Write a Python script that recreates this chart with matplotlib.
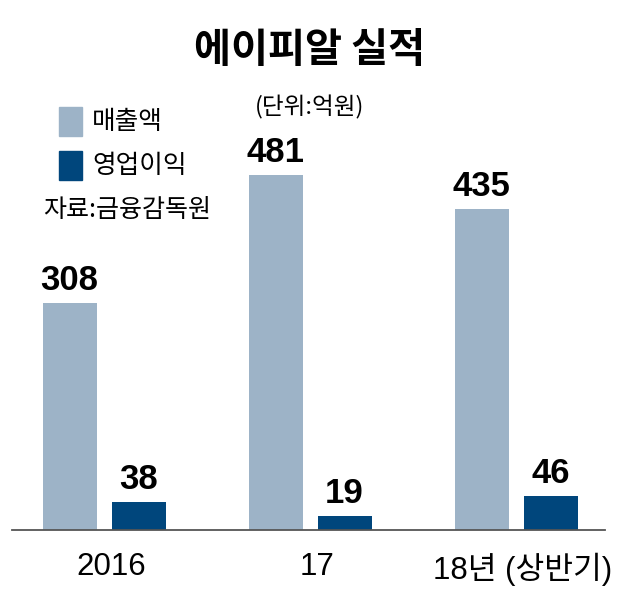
import numpy as np
import matplotlib.pyplot as plt

W, H = 617, 603

categories = ['2016', '17', '18년 (상반기)']
sales = [308, 481, 435]          # 매출액
op_profit = [38, 19, 46]         # 영업이익

light = '#9db3c7'
dark = '#00467c'
kr = ['Noto Sans CJK KR', 'DejaVu Sans']
num = ['Liberation Sans', 'Noto Sans CJK KR']


def px(x, y):
    # pixel position (from top left) -> figure fraction
    return x / W, 1 - y / H


fig = plt.figure(figsize=(W / 100, H / 100), dpi=100)

# axes: baseline at y=530, x from 12 to 605, top of 481 bar at y=175
x0, x1, yb, yt = 12, 605, 530, 175
ax = fig.add_axes([x0 / W, 1 - yb / H, (x1 - x0) / W, (yb - yt) / H])

x = np.arange(len(categories))
width = 0.262
off = 0.1675
ax.bar(x - off, sales, width, color=light)
ax.bar(x + off, op_profit, width, color=dark)

ax.set_xlim(-0.447, 2.432)
ax.set_ylim(0, max(sales))

for xi, v in zip(x, sales):
    ax.annotate(str(v), (xi - off, v), xytext=(0, 4), textcoords='offset points',
                ha='center', va='bottom', fontsize=25, fontweight='bold',
                family=num, annotation_clip=False)
for xi, v in zip(x, op_profit):
    ax.annotate(str(v), (xi + off, v), xytext=(0, 4), textcoords='offset points',
                ha='center', va='bottom', fontsize=25, fontweight='bold',
                family=num, annotation_clip=False)

for s in ['top', 'right', 'left']:
    ax.spines[s].set_visible(False)
ax.spines['bottom'].set_color('#555555')
ax.spines['bottom'].set_linewidth(1.3)
ax.set_yticks([])
ax.set_xticks([])

# category labels under each group (a little right of centre, as in the source)
for xi, lab in zip(x, categories):
    ax.annotate(lab, (xi, 0), xycoords=('data', 'axes fraction'),
                xytext=(5, -16), textcoords='offset points',
                ha='center', va='top', fontsize=22.5, family=num,
                annotation_clip=False)

# title and side notes
fig.text(*px(310, 51), '에이피알 실적', ha='center', va='center',
         fontsize=29, fontweight='bold', family=kr)
fig.text(*px(310, 107), '(단위:억원)', ha='center', va='center',
         fontsize=17, family=kr)

# legend drawn by hand
for ytop, c, lab in [(107, light, '매출액'), (151, dark, '영업이익')]:
    fx, fy = px(59, ytop + 29)
    fig.patches.append(plt.Rectangle((fx, fy), 23 / W, 29 / H, color=c,
                                     transform=fig.transFigure, figure=fig))
    fig.text(*px(92, ytop + 15), lab, ha='left', va='center', fontsize=18.5, family=kr)
fig.text(*px(43, 210), '자료:금융감독원', ha='left', va='center',
         fontsize=18, family=kr)

fig.savefig('out.png', dpi=100)
